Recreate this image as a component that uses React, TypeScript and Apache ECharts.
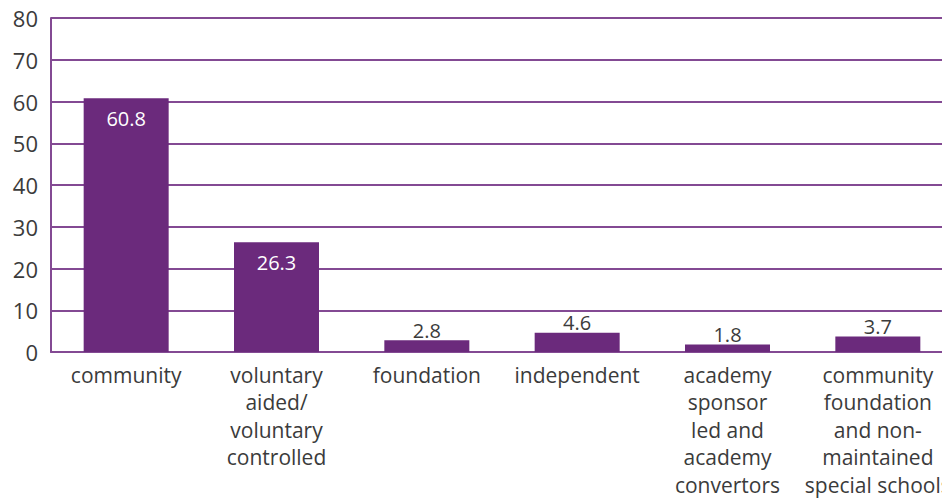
import React, { useEffect, useRef } from "react";
import * as echarts from "echarts";

const categories = [
  "community",
  "voluntary\naided/\nvoluntary\ncontrolled",
  "foundation",
  "independent",
  "academy\nsponsor\nled and\nacademy\nconvertors",
  "community\nfoundation\nand non-\nmaintained\nspecial schools",
];
const values = [60.8, 26.3, 2.8, 4.6, 1.8, 3.7];
const insideLabelIndex = [0, 1];

const FONT = "'Open Sans', 'Noto Sans', sans-serif";
const PURPLE = "#6b2a7c";
const GRID = "#834a93";
const TEXT = "#3b3b3b";

export default function App() {
  const ref = useRef<HTMLDivElement>(null);
  useEffect(() => {
    document.body.style.margin = "0";
    document.body.style.overflow = "hidden";
    const chart = echarts.init(ref.current!, null, { renderer: "svg" });
    chart.setOption({
      animation: false,
      grid: {
        left: 51,
        top: 18,
        width: 902,
        height: 334,
        containLabel: false,
        outerBoundsMode: "none",
      },
      xAxis: {
        type: "category",
        data: categories,
        axisLine: { show: true, lineStyle: { color: GRID, width: 2 } },
        axisTick: { show: false },
        axisLabel: {
          color: TEXT,
          fontFamily: FONT,
          fontSize: 21,
          lineHeight: 27.5,
          margin: 9,
          interval: 0,
          align: "center",
        },
      },
      yAxis: {
        type: "value",
        min: 0,
        max: 80,
        interval: 10,
        axisLine: { show: true, lineStyle: { color: GRID, width: 2 } },
        axisTick: { show: false },
        axisLabel: { color: TEXT, fontFamily: FONT, fontSize: 22, margin: 13 },
        splitLine: { show: true, lineStyle: { color: GRID, width: 2 } },
      },
      series: [
        {
          type: "bar",
          barWidth: 85,
          itemStyle: { color: PURPLE },
          data: values.map((v, i) => ({
            value: v,
            label: insideLabelIndex.includes(i)
              ? { show: true, position: "insideTop", distance: 10, color: "#ffffff" }
              : { show: true, position: "top", distance: 0, color: TEXT },
          })),
          label: { fontFamily: FONT, fontSize: 20 },
        },
      ],
    });
    return () => chart.dispose();
  }, []);
  return (
    <div
      ref={ref}
      style={{ width: 942, height: 499, overflow: "hidden", position: "relative" }}
    />
  );
}
